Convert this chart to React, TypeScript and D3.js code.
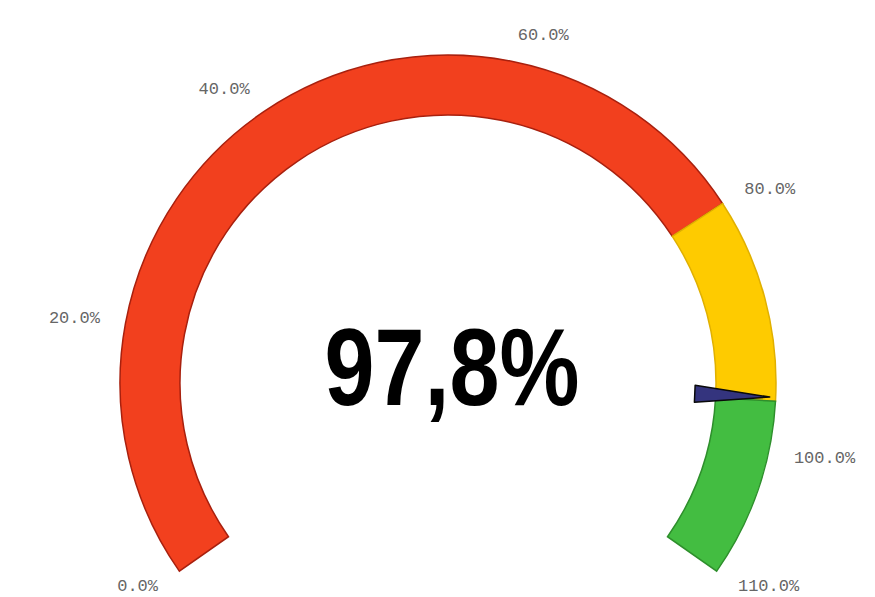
import React from 'react';
import * as d3 from 'd3';

// gauge data
const scaleDomain = [0, 110];
const tickValues = [0, 20, 40, 60, 80, 100, 110];
const bandStops = [0, 80, 96, 110];
const bandColors = ['#f2401e', '#fecb00', '#43bd41'];
const bandStrokes = ['#a8200e', '#e0b000', '#2e8f2c'];
const needleValue = 95.7;
const valueLabel = '97,8%';

const W = 875;
const H = 597;
const cx = 448;
const cy = 383;
const rOuter = 328;
const rInner = 268;
const rLabel = 354;

const App: React.FC = () => {
  const angle = d3.scaleLinear()
    .domain(scaleDomain)
    .range([-125 * Math.PI / 180, 125 * Math.PI / 180]);

  const arc = d3.arc<{ a0: number; a1: number }>()
    .innerRadius(rInner)
    .outerRadius(rOuter)
    .startAngle(d => d.a0)
    .endAngle(d => d.a1);

  const bands = bandStops.slice(1).map((v, i) => ({
    a0: angle(bandStops[i]),
    a1: angle(v),
    fill: bandColors[i],
    stroke: bandStrokes[i]
  }));

  // needle: small triangle sitting on the inner edge of the arc
  const na = angle(needleValue);
  const pt = (r: number, a: number) => [r * Math.sin(a), -r * Math.cos(a)];
  const baseR = rInner - 21;
  const tipR = rOuter - 6;
  const half = 8.5;
  const [bx, by] = pt(baseR, na);
  const [tx, ty] = pt(tipR, na);
  const nx = Math.cos(na) * half;
  const ny = Math.sin(na) * half;
  const needle = d3.line()([
    [bx + nx, by + ny],
    [tx, ty],
    [bx - nx, by - ny]
  ]) + 'Z';

  return (
    <svg width={W} height={H} style={{ position: 'absolute', left: 0, top: 0, background: '#fff' }}>
      <g transform={`translate(${cx},${cy})`}>
        {bands.map((b, i) => (
          <path key={i} d={arc(b) || ''} fill={b.fill} stroke={b.stroke} strokeWidth={1.5} />
        ))}
        <path d={needle} fill="#34347e" stroke="#0a0a0a" strokeWidth={1.5} strokeLinejoin="round" />
        {tickValues.map(v => {
          const a = angle(v);
          const [x, y] = pt(rLabel, a);
          return (
            <text
              key={v}
              x={x}
              y={y}
              textAnchor={a < 0 ? 'end' : 'start'}
              dominantBaseline="middle"
              fontFamily="'Liberation Mono', monospace"
              fontSize={17}
              fill="#666"
            >
              {`${v.toFixed(1)}%`}
            </text>
          );
        })}
      </g>
      <text
        x={452}
        y={405}
        textAnchor="middle"
        fontFamily="'Liberation Sans Narrow', 'Liberation Sans', Arial, sans-serif"
        fontWeight="bold"
        fontSize={110}
        textLength={255}
        lengthAdjust="spacingAndGlyphs"
        fill="#000"
      >
        {valueLabel}
      </text>
    </svg>
  );
};

export default App;
